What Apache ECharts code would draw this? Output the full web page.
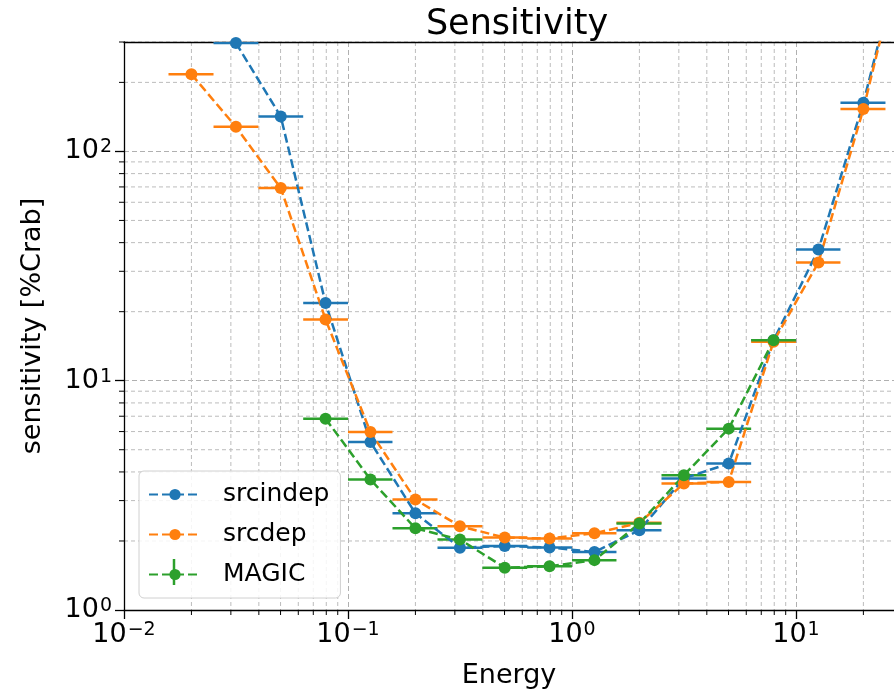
<!DOCTYPE html>
<html><head><meta charset="utf-8">
<script src="https://cdn.jsdelivr.net/npm/echarts@6/dist/echarts.min.js"></script>
<style>html,body{margin:0;padding:0;background:#fff}#c{width:894px;height:700px}</style>
</head><body><div id="c"></div>
<script>
// ---- data ----
const binCenter = [0.02, 0.0316, 0.0501, 0.0794, 0.126, 0.2, 0.316, 0.501, 0.794, 1.26, 2.0, 3.16, 5.01, 7.94, 12.6, 20.0, 31.6];
const binLow    = [0.0158, 0.0251, 0.0398, 0.0631, 0.1, 0.158, 0.251, 0.398, 0.631, 1.0, 1.58, 2.51, 3.98, 6.31, 10.0, 15.8, 25.1];
const binHigh   = [0.0251, 0.0398, 0.0631, 0.1, 0.158, 0.251, 0.398, 0.631, 1.0, 1.58, 2.51, 3.98, 6.31, 10.0, 15.8, 25.1, 39.8];
const srcindep  = [null, 297, 142, 21.8, 5.4, 2.64, 1.87, 1.90, 1.875, 1.79, 2.23, 3.75, 4.35, 15.0, 37.3, 163, 950];
const srcdep    = [217, 128, 69.2, 18.5, 5.97, 3.03, 2.32, 2.07, 2.05, 2.16, 2.40, 3.56, 3.62, 14.8, 32.8, 153, 950];
const magic     = [null, null, null, 6.83, 3.71, 2.27, 2.03, 1.53, 1.55, 1.65, 2.385, 3.87, 6.18, 15.0, null, null, null];
const magicErr  = [null, null, null, 0.2, 0.1, 0.05, 0.04, 0.03, 0.03, 0.03, 0.05, 0.1, 0.2, 0.5, null, null, null];
const xMinorTicks = [0.02,0.03,0.04,0.05,0.06,0.07,0.08,0.09,0.2,0.3,0.4,0.5,0.6,0.7,0.8,0.9,2,3,4,5,6,7,8,9,20];
const yMinorTicks = [2,3,4,5,6,7,8,9,20,30,40,50,60,70,80,90,200,300];
const xMin = 0.01, xMax = 27.4, yMin = 1, yMax = 300;

const FONT = 'DejaVu Sans';
const colors = {srcindep:'#1f77b4', srcdep:'#ff7f0e', MAGIC:'#2ca02c'};

function pow10Label(v){
  const e = Math.round(Math.log10(v));
  const s = e < 0 ? '\u2212' + (-e) : String(e);
  return '{b|10}{s|' + s + '}';
}
const labelRich = {
  b: {fontSize: 27, fontFamily: FONT, color: '#000'},
  s: {fontSize: 19, fontFamily: FONT, color: '#000', verticalAlign: 'top', padding: [0,0,7,1]}
};

function pts(vals){
  const out = [];
  vals.forEach((v,i)=>{ if (v !== null) out.push([binCenter[i], v]); });
  return out;
}
function errRows(vals, errs){
  const out = [];
  vals.forEach((v,i)=>{ if (v !== null) out.push([binLow[i], binHigh[i], v, errs ? errs[i] : 0, binCenter[i]]); });
  return out;
}
function errRender(color){
  return function(params, api){
    const y = api.value(2);
    const a = api.coord([api.value(0), y]);
    const b = api.coord([api.value(1), y]);
    const ch = [{type:'line', shape:{x1:a[0],y1:a[1],x2:b[0],y2:b[1]}, style:{stroke:color, lineWidth:2.5}}];
    const e = api.value(3);
    if (e > 0) {
      const t = api.coord([api.value(4), y + e]);
      const u = api.coord([api.value(4), y - e]);
      ch.push({type:'line', shape:{x1:t[0],y1:t[1],x2:u[0],y2:u[1]}, style:{stroke:color, lineWidth:2.5}});
    }
    return {type:'group', children: ch};
  };
}
const gridStyle = {stroke:'#bcbcbc', lineWidth:1, lineDash:[4,3]};

const chart = echarts.init(document.getElementById('c'), null, {renderer:'canvas'});
const lineSeries = (name, vals) => ({
  name, type:'line', data: pts(vals), symbol:'circle', symbolSize: 12, showSymbol:true,
  lineStyle:{color: colors[name], width: 2.5, type:[9,4]}, itemStyle:{color: colors[name]},
  clip:true, z: 5
});
chart.setOption({
  animation:false,
  backgroundColor:'#fff',
  title:{text:'Sensitivity', left:512, top:2, textAlign:'center',
    textStyle:{fontFamily:FONT, fontSize:35, fontWeight:'normal', color:'#000'}},
  grid:{left:124, right:0, top:42, bottom:90, containLabel:false},
  legend:{left:139, top:471, orient:'vertical', padding:[11,11,11,9], itemGap:15, itemWidth:52, itemHeight:14,
    backgroundColor:'rgba(255,255,255,0.85)', borderColor:'#d0d0d0', borderWidth:1, borderRadius:5,
    textStyle:{fontFamily:FONT, fontSize:25, color:'#000', padding:[0,0,0,17]},
    data:['srcindep','srcdep','MAGIC']},
  xAxis:[{
    type:'log', logBase:10, min:xMin, max:xMax, position:'bottom',
    name:'Energy', nameLocation:'middle', nameGap:52,
    nameTextStyle:{fontFamily:FONT, fontSize:27, color:'#000'},
    axisLine:{lineStyle:{color:'#000', width:1.3}},
    axisTick:{show:true, length:9, lineStyle:{color:'#000', width:1.3}},
    axisLabel:{formatter:pow10Label, rich:labelRich, margin:11, showMaxLabel:false, showMinLabel:true},
    splitLine:{show:true, lineStyle:{color:'#b0b0b0', width:1, type:[5,3]}},
    minorTick:{show:false}, minorSplitLine:{show:false}
  },{
    type:'log', logBase:10, min:xMin, max:xMax, position:'top',
    axisLine:{lineStyle:{color:'#000', width:1.3}}, axisTick:{show:false}, axisLabel:{show:false}, splitLine:{show:false}
  }],
  yAxis:{
    type:'log', logBase:10, min:yMin, max:yMax,
    name:'sensitivity [%Crab]', nameLocation:'middle', nameGap:78,
    nameTextStyle:{fontFamily:FONT, fontSize:27, color:'#000'},
    axisLine:{show:true, lineStyle:{color:'#000', width:1.3}},
    axisTick:{show:true, length:9, lineStyle:{color:'#000', width:1.3}},
    axisLabel:{formatter:pow10Label, rich:labelRich, margin:12, showMaxLabel:false, showMinLabel:true},
    splitLine:{show:true, lineStyle:{color:'#b0b0b0', width:1, type:[5,3]}},
    minorTick:{show:false}, minorSplitLine:{show:false}
  },
  graphic:[{type:'line', shape:{x1:174, y1:559, x2:174, y2:585}, style:{stroke:'#2ca02c', lineWidth:2.5}, z:100}],
  series:[
    {type:'custom', name:'xminor', silent:true, z:0, clip:false, encode:{x:0, y:1},
      data: xMinorTicks.map(v=>[v, yMin]),
      renderItem:function(params, api){
        const p = api.coord([api.value(0), yMin]); const cs = params.coordSys;
        return {type:'group', children:[
          {type:'line', shape:{x1:p[0], y1:cs.y, x2:p[0], y2:cs.y+cs.height}, style:gridStyle},
          {type:'line', shape:{x1:p[0], y1:cs.y+cs.height, x2:p[0], y2:cs.y+cs.height+5}, style:{stroke:'#000', lineWidth:1}}
        ]};
      }},
    {type:'custom', name:'yminor', silent:true, z:0, clip:false, encode:{x:0, y:1},
      data: yMinorTicks.map(v=>[xMin, v]),
      renderItem:function(params, api){
        const p = api.coord([xMin, api.value(1)]); const cs = params.coordSys;
        return {type:'group', children:[
          {type:'line', shape:{x1:cs.x, y1:p[1], x2:cs.x+cs.width, y2:p[1]}, style:gridStyle},
          {type:'line', shape:{x1:cs.x-5, y1:p[1], x2:cs.x, y2:p[1]}, style:{stroke:'#000', lineWidth:1}}
        ]};
      }},
    {type:'custom', name:'err_srcindep', silent:true, z:4, clip:true, encode:{x:[0,1], y:2},
      data: errRows(srcindep), renderItem: errRender(colors.srcindep)},
    {type:'custom', name:'err_srcdep', silent:true, z:4, clip:true, encode:{x:[0,1], y:2},
      data: errRows(srcdep), renderItem: errRender(colors.srcdep)},
    {type:'custom', name:'err_magic', silent:true, z:4, clip:true, encode:{x:[0,1], y:2},
      data: errRows(magic, magicErr), renderItem: errRender(colors.MAGIC)},
    lineSeries('srcindep', srcindep),
    lineSeries('srcdep', srcdep),
    lineSeries('MAGIC', magic)
  ]
});
</script></body></html>
